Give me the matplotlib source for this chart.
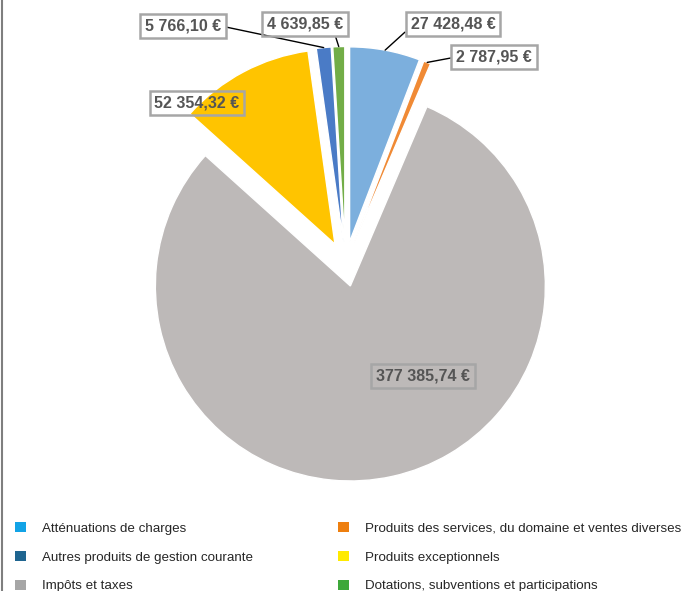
import numpy as np
import matplotlib
matplotlib.use('Agg')
import matplotlib.pyplot as plt
from matplotlib.patches import Patch
from matplotlib.lines import Line2D

# data
labels = ['Atténuations de charges',
          'Produits des services, du domaine et ventes diverses',
          'Impôts et taxes',
          'Produits exceptionnels',
          'Autres produits de gestion courante',
          'Dotations, subventions et participations']
values = [27428.48, 2787.95, 377385.74, 52354.32, 5766.10, 4639.85]
value_text = ['27 428,48 €', '2 787,95 €', '377 385,74 €', '52 354,32 €', '5 766,10 €', '4 639,85 €']

pie_colors = ['#7cafdd', '#f08a35', '#bdb9b8', '#ffc400', '#4a7bc6', '#72ad47']
legend_colors = ['#12a3e6', '#ee7f0f', '#a6a6a6', '#ffea00', '#1f6590', '#3da83a']

# label box centres (pixels from top-left), where the leader line leaves the box
label_pos = [(453, 24), (494, 57), (423, 376), (197, 103), (183, 26), (305, 24)]
leader_rel = [(0.0, 0.3), (0.0, 0.5), None, None, (1.0, 0.5), (0.88, 0.0)]

W, H = 691, 591
fig = plt.figure(figsize=(W / 100, H / 100), dpi=100)
ax = fig.add_axes([0, 0, 1, 1])

cx, cy, r = 345.5, H - 264, 195
wedges, _ = ax.pie(values, colors=pie_colors, startangle=90, counterclock=False,
                   explode=[22.5] * len(values), center=(cx, cy), radius=r,
                   wedgeprops=dict(edgecolor='white', linewidth=1.0), frame=True)
ax.set_xlim(0, W)
ax.set_ylim(0, H)
ax.axis('off')

fnt = ['Liberation Sans', 'DejaVu Sans']
for w, txt, (px, py), rel in zip(wedges, value_text, label_pos, leader_rel):
    mid = np.deg2rad((w.theta1 + w.theta2) / 2)
    wx = w.center[0] + w.r * np.cos(mid)
    wy = w.center[1] + w.r * np.sin(mid)
    kw = dict(ha='center', va='center', fontsize=11.5, fontweight='bold',
              color='#555555', family=fnt,
              bbox=dict(boxstyle='square,pad=0.3', fc='none', ec='#a6a6a6', lw=1.8))
    if rel is not None:
        ax.annotate(txt, xy=(wx, wy), xytext=(px, H - py),
                    arrowprops=dict(arrowstyle='-', color='black', lw=1, relpos=rel,
                                    shrinkA=0, shrinkB=0),
                    **kw)
    else:
        ax.text(px, H - py, txt, **kw)

# legend, two columns placed separately
cols = [[0, 4, 2], [1, 3, 5]]
col_x = [4, 327]
for idx, x0 in zip(cols, col_x):
    handles = [Patch(facecolor=legend_colors[i], edgecolor='none') for i in idx]
    leg = fig.legend(handles, [labels[i] for i in idx], loc='upper left',
                     bbox_to_anchor=(x0 / W, 1 - 511 / H), frameon=False,
                     prop=dict(family=fnt, size=9.6), borderpad=0.3,
                     labelcolor='#262626', handlelength=0.85, handleheight=0.85,
                     handletextpad=1.2, labelspacing=1.2)

fig.add_artist(Line2D([2 / W, 2 / W], [0, 1], color='#7f7f7f', lw=1.5))

fig.savefig('out.png', dpi=100)
